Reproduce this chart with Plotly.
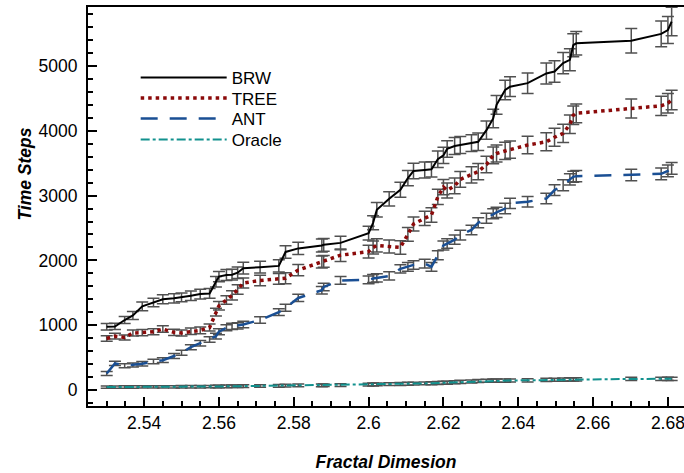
import plotly.graph_objects as go

fractal_dim = [2.5300, 2.5322, 2.5348, 2.5370, 2.5395, 2.5425, 2.5450, 2.5480, 2.5500, 2.5525,
               2.5550, 2.5575, 2.5592, 2.5600, 2.5620, 2.5635, 2.5650, 2.5665, 2.5710, 2.5760,
               2.5778, 2.5812, 2.5875, 2.5880, 2.5925, 2.6000, 2.6012, 2.6022, 2.6055, 2.6085,
               2.6105, 2.6120, 2.6150, 2.6168, 2.6185, 2.6200, 2.6210, 2.6230, 2.6245, 2.6275,
               2.6293, 2.6315, 2.6333, 2.6342, 2.6365, 2.6378, 2.6425, 2.6475, 2.6497, 2.6520,
               2.6538, 2.6547, 2.6555, 2.6702, 2.6782, 2.6800, 2.6810]

brw = [975, 980, 1080, 1150, 1290, 1350, 1400, 1415, 1430, 1455,
       1480, 1490, 1670, 1750, 1775, 1780, 1810, 1880, 1895, 1915,
       2130, 2185, 2230, 2240, 2270, 2420, 2580, 2780, 2950, 3090,
       3270, 3380, 3395, 3405, 3560, 3620, 3720, 3765, 3780, 3810,
       3830, 4010, 4190, 4400, 4630, 4680, 4735, 4885, 4915, 5045,
       5095, 5320, 5350, 5390, 5495, 5555, 5685]
brw_err = [50, 48, 55, 62, 66, 64, 70, 72, 68, 74,
           76, 75, 82, 80, 86, 84, 88, 92, 90, 94,
           96, 95, 100, 98, 104, 106, 108, 112, 110, 116,
           118, 120, 122, 118, 126, 124, 128, 130, 132, 128,
           134, 140, 142, 146, 150, 152, 158, 162, 166, 164,
           170, 178, 182, 190, 200, 210, 220]

tree = [795, 830, 810, 880, 885, 900, 940, 890, 880, 905,
        920, 965, 1200, 1300, 1390, 1460, 1550, 1650, 1690, 1715,
        1725, 1850, 1975, 1985, 2080, 2135, 2200, 2230, 2215, 2200,
        2400, 2560, 2650, 2700, 2980, 3130, 3080, 3150, 3250, 3320,
        3370, 3480, 3620, 3650, 3690, 3710, 3780, 3830, 3900, 3960,
        4100, 4240, 4270, 4345, 4385, 4425, 4475]
tree_err = [42, 44, 40, 46, 48, 46, 50, 48, 47, 50,
            52, 54, 60, 64, 66, 70, 74, 78, 80, 82,
            84, 88, 92, 90, 96, 98, 100, 102, 100, 104,
            106, 108, 110, 112, 116, 118, 116, 120, 122, 124,
            124, 128, 130, 132, 132, 134, 136, 138, 140, 140,
            142, 144, 145, 146, 148, 150, 152]

ant = [255, 410, 375, 385, 405, 440, 460, 525, 575, 660,
       720, 780, 830, 900, 960, 980, 990, 1010, 1080, 1200,
       1270, 1420, 1540, 1590, 1690, 1700, 1720, 1730, 1760, 1870,
       1900, 1930, 1950, 1900, 2080, 2230, 2260, 2320, 2390, 2470,
       2580, 2650, 2720, 2740, 2800, 2880, 2905, 2955, 3085, 3160,
       3250, 3290, 3300, 3318, 3335, 3380, 3420]
ant_err = [30, 32, 30, 32, 34, 34, 36, 38, 38, 40,
           42, 42, 44, 46, 46, 48, 48, 50, 50, 52,
           54, 56, 58, 58, 60, 60, 62, 62, 64, 64,
           66, 66, 68, 68, 70, 70, 72, 72, 74, 74,
           76, 76, 78, 78, 80, 80, 82, 82, 84, 84,
           86, 86, 88, 88, 90, 90, 92]

oracle = [45, 45, 46, 46, 47, 47, 48, 48, 49, 50,
          50, 52, 55, 55, 56, 57, 58, 60, 62, 65,
          67, 70, 72, 73, 75, 82, 85, 87, 90, 93,
          96, 98, 102, 105, 108, 110, 112, 118, 125, 130,
          138, 142, 145, 145, 145, 146, 150, 155, 158, 160,
          162, 165, 165, 170, 172, 172, 172]
oracle_err = [18, 18, 18, 18, 18, 18, 19, 19, 19, 19,
              19, 19, 20, 20, 20, 20, 20, 20, 20, 21,
              21, 21, 21, 21, 21, 22, 22, 22, 22, 22,
              22, 22, 23, 23, 23, 23, 23, 23, 24, 24,
              24, 24, 24, 24, 24, 24, 25, 25, 25, 25,
              25, 25, 25, 25, 25, 25, 25]

series_names = ["BRW", "TREE", "ANT", "Oracle"]
x_ticks = [2.54, 2.56, 2.58, 2.6, 2.62, 2.64, 2.66, 2.68]
x_tick_labels = ["2.54", "2.56", "2.58", "2.6", "2.62", "2.64", "2.66", "2.68"]
y_ticks = [0, 1000, 2000, 3000, 4000, 5000]

styles = [
    dict(color="#000000", width=2, dash="solid"),
    dict(color="#8b0a0a", width=3.5, dash="3.5px,4px"),
    dict(color="#1a4f94", width=2.5, dash="17px,12px"),
    dict(color="#12918e", width=2, dash="9px,3px,3px,3px"),
]
values = [brw, tree, ant, oracle]
errors = [brw_err, tree_err, ant_err, oracle_err]
legend_ids = ["legend", "legend2", "legend3", "legend4"]
legend_rows_px = [78, 98.5, 119, 140]

fig = go.Figure()
for name, vals, errs, st, lg in zip(series_names, values, errors, styles, legend_ids):
    fig.add_trace(go.Scatter(
        x=fractal_dim, y=vals, name=name, mode="lines",
        line=st, legend=lg,
        error_y=dict(type="data", array=errs, visible=True,
                     color="#505050", thickness=1.5, width=6),
    ))

font_family = "Liberation Sans, Arial, sans-serif"
plot_top, plot_bottom = 7, 406
legend_layout = {}
for lg, py in zip(legend_ids, legend_rows_px):
    legend_layout[lg] = dict(x=0.08, y=(plot_bottom - py) / (plot_bottom - plot_top),
                             xanchor="left", yanchor="middle",
                             bgcolor="rgba(0,0,0,0)", font=dict(size=17),
                             itemwidth=86)

fig.update_layout(
    width=684, height=473,
    margin=dict(l=88, r=0, t=7, b=67),
    paper_bgcolor="white", plot_bgcolor="white",
    font=dict(family=font_family, size=17, color="black"),
    showlegend=True,
    xaxis=dict(range=[2.525, 2.6843], tickvals=x_ticks, ticktext=x_tick_labels,
               showline=True, linecolor="black", linewidth=2, mirror=True,
               ticks="inside", ticklen=9, tickwidth=2, tickcolor="black",
               minor=dict(dtick=0.005, ticks="inside", ticklen=5, tickwidth=1.5, tickcolor="black"),
               showgrid=False, zeroline=False, ticklabeloverflow="allow",
               tickfont=dict(size=17.5),
               title=dict(text="<b><i>Fractal Dimesion</i></b>", font=dict(size=17.5), standoff=24)),
    yaxis=dict(range=[-247, 5910], tickvals=y_ticks,
               showline=True, linecolor="black", linewidth=2, mirror=False,
               ticks="inside", ticklen=9, tickwidth=2, tickcolor="black",
               minor=dict(dtick=200, ticks="inside", ticklen=5, tickwidth=1.5, tickcolor="black"),
               showgrid=False, zeroline=False,
               tickfont=dict(size=17.5), ticklabelstandoff=5),
    annotations=[dict(text="<b><i>Time Steps</i></b>", xref="paper", yref="paper",
                      x=-0.106, y=0.582, textangle=-90, showarrow=False,
                      font=dict(size=17.5), xanchor="center", yanchor="middle")],
    **legend_layout,
)

fig.write_html("out.html")
